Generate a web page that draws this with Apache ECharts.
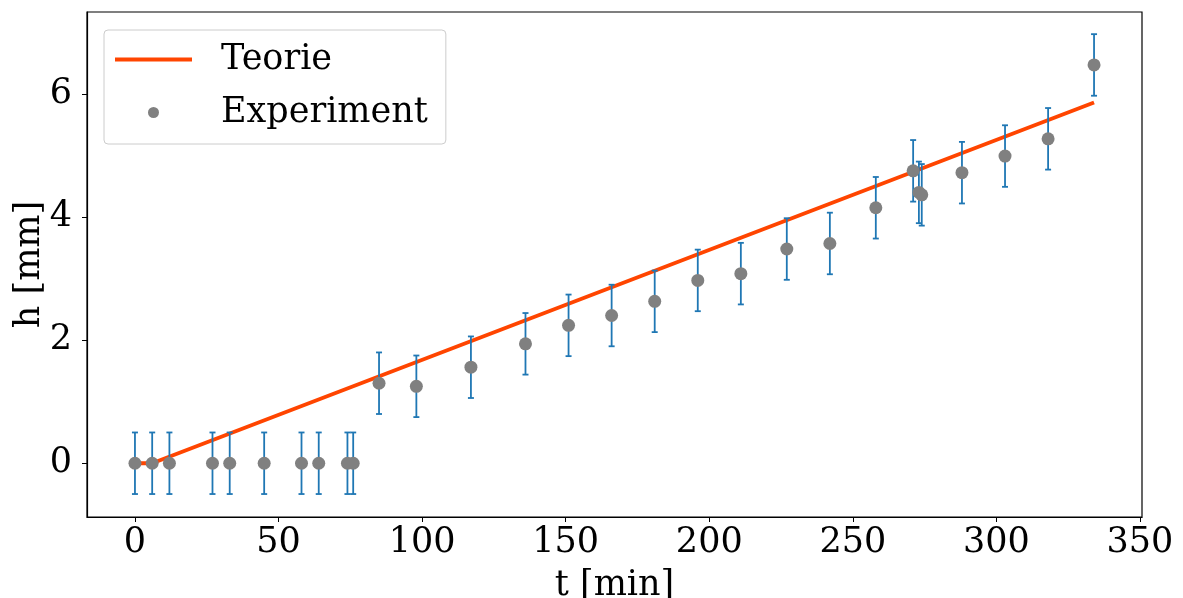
<!DOCTYPE html>
<html>
<head>
<meta charset="utf-8">
<script src="https://cdn.jsdelivr.net/npm/echarts@6/dist/echarts.min.js"></script>
<style>
  html, body { margin: 0; padding: 0; background: #fff; }
  #chart { width: 1183px; height: 598px; }
</style>
</head>
<body>
<div id="chart"></div>
<script>
var chart = echarts.init(document.getElementById('chart'));

// measured time [min] and height [mm]
const tMin = [0, 6, 12, 27, 33, 45, 58, 64, 74, 76, 85, 98, 117, 136, 151, 166, 181, 196, 211, 227, 242, 258, 271, 273, 274, 288, 303, 318, 334];
const hMm = [0, 0, 0, 0, 0, 0, 0, 0, 0, 0, 1.30, 1.25, 1.56, 1.94, 2.24, 2.40, 2.63, 2.97, 3.08, 3.48, 3.57, 4.15, 4.75, 4.40, 4.36, 4.72, 4.99, 5.27, 6.47];
const hErr = 0.5;

// theory curve
const tTheory = [0, 6, 334];
const hTheory = [0, 0, 5.86];

const xTicks = [0, 50, 100, 150, 200, 250, 300, 350];
const yTicks = [0, 2, 4, 6];

const font = 'DejaVu Serif';
const fs = 35;

const points = tMin.map(function (t, i) { return [t, hMm[i]]; });
const bars = tMin.map(function (t, i) { return [t, hMm[i] - hErr, hMm[i] + hErr]; });
const theory = tTheory.map(function (t, i) { return [t, hTheory[i]]; });

function renderErr(params, api) {
  var lo = api.coord([api.value(0), api.value(1)]);
  var hi = api.coord([api.value(0), api.value(2)]);
  var c = 3;
  var st = { stroke: '#1f77b4', lineWidth: 1.8 };
  return {
    type: 'group',
    children: [
      { type: 'line', shape: { x1: lo[0], y1: lo[1], x2: hi[0], y2: hi[1] }, style: st },
      { type: 'line', shape: { x1: lo[0] - c, y1: lo[1], x2: lo[0] + c, y2: lo[1] }, style: st },
      { type: 'line', shape: { x1: hi[0] - c, y1: hi[1], x2: hi[0] + c, y2: hi[1] }, style: st }
    ]
  };
}

const options = {
  animation: false,
  backgroundColor: '#fff',
  textStyle: { fontFamily: font },
  grid: {
    left: 87, right: 41, top: 12, bottom: 81,
    outerBoundsMode: 'none', containLabel: false,
    show: true, borderColor: '#000', borderWidth: 1.2, backgroundColor: 'transparent'
  },
  legend: {
    orient: 'vertical',
    left: 104, top: 30,
    padding: [12, 18, 14, 11],
    itemWidth: 77, itemHeight: 11,
    itemGap: 18,
    backgroundColor: 'rgba(255,255,255,0.8)',
    borderColor: '#cccccc', borderWidth: 1, borderRadius: 4,
    textStyle: { fontFamily: font, fontSize: fs, color: '#000', padding: [0, 0, 0, 24] },
    data: [
      { name: 'Teorie', icon: 'path://M0,0H77V4H0Z', itemStyle: { color: '#ff4500' } },
      { name: 'Experiment', icon: 'circle', itemStyle: { color: '#808080' } }
    ]
  },
  xAxis: {
    type: 'value',
    min: -16.7, max: 350.7,
    name: 't [min]', nameLocation: 'middle', nameGap: 51, nameMoveOverlap: false,
    nameTextStyle: { fontFamily: font, fontSize: fs, color: '#000' },
    axisLine: { show: true, onZero: false, lineStyle: { color: '#000', width: 1.2 } },
    axisTick: { show: true, length: 5, customValues: xTicks, lineStyle: { color: '#000' } },
    axisLabel: { customValues: xTicks, fontFamily: font, fontSize: fs, color: '#000', margin: 8 },
    splitLine: { show: false }
  },
  yAxis: {
    type: 'value',
    min: -0.873, max: 7.33,
    name: 'h [mm]', nameLocation: 'middle', nameGap: 40, nameMoveOverlap: false,
    nameTextStyle: { fontFamily: font, fontSize: fs, color: '#000' },
    axisLine: { show: true, onZero: false, lineStyle: { color: '#000', width: 1.2 } },
    axisTick: { show: true, length: 5, customValues: yTicks, lineStyle: { color: '#000' } },
    axisLabel: { customValues: yTicks, fontFamily: font, fontSize: fs, color: '#000', margin: 15 },
    splitLine: { show: false }
  },
  series: [{
    name: 'Teorie',
    type: 'line',
    data: theory,
    showSymbol: false,
    color: '#ff4500',
    lineStyle: { color: '#ff4500', width: 4 },
    z: 2
  }, {
    name: 'errors',
    type: 'custom',
    data: bars,
    renderItem: renderErr,
    encode: { x: 0, y: [1, 2] },
    z: 3
  }, {
    name: 'Experiment',
    type: 'scatter',
    data: points,
    symbolSize: 13,
    itemStyle: { color: '#808080', opacity: 1 },
    z: 4
  }]
};
chart.setOption(options);
</script>
</body>
</html>
